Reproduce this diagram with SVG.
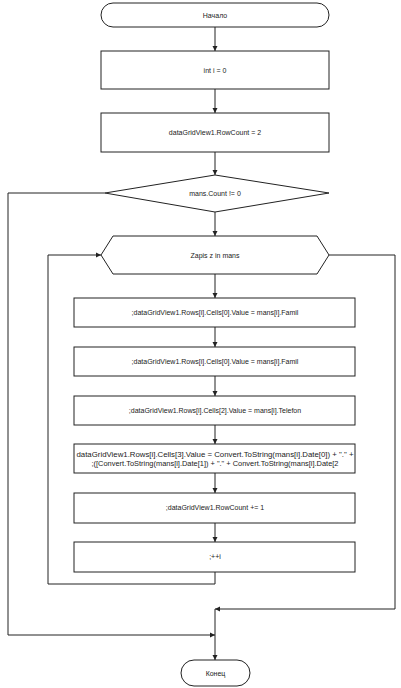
<svg xmlns="http://www.w3.org/2000/svg" width="401" height="688" viewBox="0 0 401 688">
<style>
.s{fill:#fff;stroke:#222;stroke-width:1}
.c{fill:none;stroke:#222;stroke-width:1}
text{font-family:"Liberation Sans",Arial,sans-serif;font-size:7px;fill:#222;text-anchor:middle}
</style>
<defs>
<marker id="a" markerWidth="6" markerHeight="6" refX="5" refY="3" orient="auto" markerUnits="userSpaceOnUse">
<path d="M0,0.5 L5,3 L0,5.5 Z" fill="#222"/>
</marker>
</defs>
<rect width="401" height="688" fill="#fff"/>
<g id="connectors">
<line class="c" x1="215" y1="27" x2="215" y2="51" marker-end="url(#a)"/>
<line class="c" x1="215" y1="89" x2="215" y2="113" marker-end="url(#a)"/>
<line class="c" x1="215" y1="152" x2="215" y2="175" marker-end="url(#a)"/>
<line class="c" x1="215" y1="212" x2="215" y2="236" marker-end="url(#a)"/>
<line class="c" x1="215" y1="274" x2="215" y2="298" marker-end="url(#a)"/>
<line class="c" x1="215" y1="327" x2="215" y2="347" marker-end="url(#a)"/>
<line class="c" x1="215" y1="376" x2="215" y2="396" marker-end="url(#a)"/>
<line class="c" x1="215" y1="425" x2="215" y2="444" marker-end="url(#a)"/>
<line class="c" x1="215" y1="473" x2="215" y2="493" marker-end="url(#a)"/>
<line class="c" x1="215" y1="523" x2="215" y2="542" marker-end="url(#a)"/>
<polyline class="c" points="215,572 215,584 48,584 48,255 101,255" marker-end="url(#a)"/>
<polyline class="c" points="329,255 395,255 395,609 215,609" marker-end="url(#a)"/>
<polyline class="c" points="105,193 8,193 8,635 215,635" marker-end="url(#a)"/>
<line class="c" x1="215" y1="609" x2="215" y2="660" marker-end="url(#a)"/>
</g>
<g id="start">
<rect class="s" x="101" y="3" width="228" height="24" rx="12" ry="12"/>
<text x="215" y="17.5">Начало</text>
</g>
<g id="init_i">
<rect class="s" x="101" y="51" width="228" height="38"/>
<text x="215" y="72.5">int i = 0</text>
</g>
<g id="rowcount_init">
<rect class="s" x="101" y="113" width="228" height="39"/>
<text x="215" y="135">dataGridView1.RowCount = 2</text>
</g>
<g id="decision">
<polygon class="s" points="215,175 329,193 215,212 105,193"/>
<text x="215" y="195.5">mans.Count != 0</text>
</g>
<g id="loop">
<polygon class="s" points="101,255 113,236 317,236 329,255 317,274 113,274"/>
<text x="215" y="257.5">Zapis z in mans</text>
</g>
<g id="cell0_a">
<rect class="s" x="74" y="298" width="281" height="29"/>
<text x="215" y="314.5">;dataGridView1.Rows[i].Cells[0].Value = mans[i].Famil</text>
</g>
<g id="cell0_b">
<rect class="s" x="74" y="347" width="281" height="29"/>
<text x="215" y="363.5">;dataGridView1.Rows[i].Cells[0].Value = mans[i].Famil</text>
</g>
<g id="cell2">
<rect class="s" x="74" y="396" width="281" height="29"/>
<text x="215" y="412.5">;dataGridView1.Rows[i].Cells[2].Value = mans[i].Telefon</text>
</g>
<g id="cell3">
<rect class="s" x="74" y="444" width="281" height="29"/>
<text x="215" y="457" textLength="277" lengthAdjust="spacingAndGlyphs">dataGridView1.Rows[i].Cells[3].Value = Convert.ToString(mans[i].Date[0]) + "." +</text>
<text x="215" y="465.5" textLength="247" lengthAdjust="spacingAndGlyphs">;([Convert.ToString(mans[i].Date[1]) + "." + Convert.ToString(mans[i].Date[2</text>
</g>
<g id="rowcount_inc">
<rect class="s" x="74" y="493" width="281" height="30"/>
<text x="215" y="510">;dataGridView1.RowCount += 1</text>
</g>
<g id="inc_i">
<rect class="s" x="74" y="542" width="281" height="30"/>
<text x="215" y="559">;++i</text>
</g>
<g id="end">
<rect class="s" x="181" y="660" width="69" height="26" rx="13" ry="13"/>
<text x="215.5" y="675.5">Конец</text>
</g>
</svg>
